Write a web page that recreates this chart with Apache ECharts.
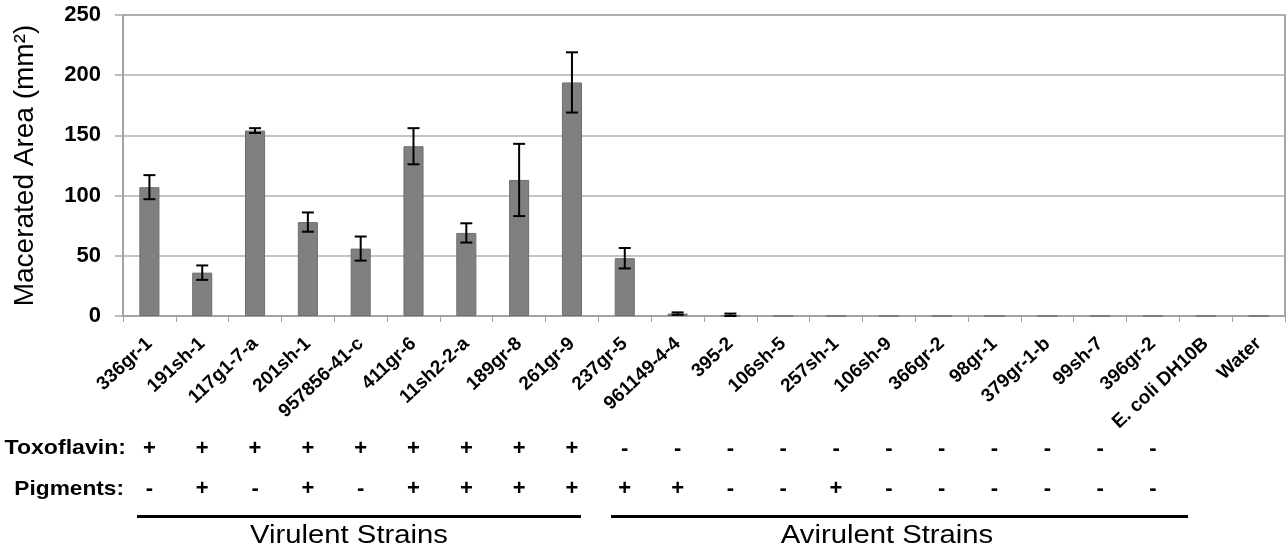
<!DOCTYPE html>
<html><head><meta charset="utf-8">
<script src="https://cdn.jsdelivr.net/npm/echarts@6/dist/echarts.min.js"></script>
<style>html,body{margin:0;padding:0;background:#fff}#c{width:1286px;height:551px}</style>
</head><body><div id="c"></div>
<script>
const categories = ['336gr-1','191sh-1','117g1-7-a','201sh-1','957856-41-c','411gr-6','11sh2-2-a','189gr-8','261gr-9','237gr-5','961149-4-4','395-2','106sh-5','257sh-1','106sh-9','366gr-2','98gr-1','379gr-1-b','99sh-7','396gr-2','E. coli DH10B','Water'];
const values = [107, 36, 154, 78, 56, 141, 69, 113, 194, 48, 2, 0.5, 0, 0, 0, 0, 0, 0, 0, 0, 0, 0];
const errors = [10, 6, 2, 8, 10, 15, 8, 30, 25, 8.5, 1, 1.5, 0, 0, 0, 0, 0, 0, 0, 0, 0, 0];
const toxoflavin = ['+','+','+','+','+','+','+','+','+','-','-','-','-','-','-','-','-','-','-','-','',''];
const pigments = ['-','+','-','+','-','+','+','+','+','+','+','-','-','+','-','-','-','-','-','-','',''];
const yTicks = [0, 50, 100, 150, 200, 250];

const chart = echarts.init(document.getElementById('c'));
const FONT = 'Liberation Sans, Arial, sans-serif';
const signAxis = (data, offset) => ({
  type: 'category', data: data, gridIndex: 0, position: 'bottom', offset: offset,
  axisLine: {show: false}, axisTick: {show: false}, splitLine: {show: false},
  axisLabel: {interval: 0, margin: 0, fontFamily: FONT, fontWeight: 'bold', fontSize: 22, color: '#000'}
});
chart.setOption({
  animation: false,
  grid: {left: 123, right: 1, top: 15, bottom: 235, show: true, borderColor: '#8a8a8a', borderWidth: 1.5, containLabel: false},
  xAxis: [{
    type: 'category', data: categories,
    axisLine: {lineStyle: {color: '#a0a0a0', width: 1.5}},
    axisTick: {show: true, length: 6, lineStyle: {color: '#a0a0a0'}, alignWithLabel: false},
    axisLabel: {interval: 0, rotate: 43, margin: 25, fontFamily: FONT, fontWeight: 'bold', fontSize: 19, color: '#000'}
  }, signAxis(toxoflavin, 122), signAxis(pigments, 162)],
  yAxis: {
    type: 'value', min: 0, max: 250, interval: 50,
    name: 'Macerated Area (mm²)', nameLocation: 'middle', nameGap: 84,
    nameTextStyle: {fontFamily: FONT, fontSize: 28, color: '#000'},
    axisLine: {show: true, lineStyle: {color: '#a0a0a0', width: 1.5}},
    axisTick: {show: true, length: 8, lineStyle: {color: '#a8a8a8', width: 1.5}},
    splitLine: {lineStyle: {color: '#b0b0b0', width: 1.5}},
    axisLabel: {fontFamily: FONT, fontWeight: 'bold', fontSize: 22, color: '#000', margin: 22,
      formatter: v => yTicks.includes(v) ? String(v) : ''}
  },
  series: [{
    type: 'bar', data: values, barWidth: '38%',
    itemStyle: {color: '#808080', borderColor: '#6e6e6e', borderWidth: 1}
  }, {
    type: 'custom', z: 5,
    data: values.map((v, i) => [i, v, errors[i]]),
    renderItem: function (params, api) {
      const i = api.value(0), v = api.value(1), e = api.value(2);
      if (!(e > 0)) return null;
      const top = api.coord([i, v + e]);
      const bot = api.coord([i, Math.max(0, v - e)]);
      const hw = 6;
      const st = {stroke: '#000', lineWidth: 2};
      return {type: 'group', children: [
        {type: 'line', shape: {x1: top[0], y1: top[1], x2: bot[0], y2: bot[1]}, style: st},
        {type: 'line', shape: {x1: top[0] - hw, y1: top[1], x2: top[0] + hw, y2: top[1]}, style: st},
        {type: 'line', shape: {x1: bot[0] - hw, y1: bot[1], x2: bot[0] + hw, y2: bot[1]}, style: st}
      ]};
    }
  }],
  graphic: [
    {type: 'text', x: 126, y: 448, scaleX: 1.1, style: {text: 'Toxoflavin:', font: 'bold 21px ' + FONT, fill: '#000', textAlign: 'right', textVerticalAlign: 'middle'}},
    {type: 'text', x: 124, y: 489, scaleX: 1.08, style: {text: 'Pigments:', font: 'bold 21px ' + FONT, fill: '#000', textAlign: 'right', textVerticalAlign: 'middle'}},
    {type: 'line', shape: {x1: 137, y1: 516.5, x2: 581, y2: 516.5}, style: {stroke: '#000', lineWidth: 3}},
    {type: 'line', shape: {x1: 611, y1: 516.5, x2: 1188, y2: 516.5}, style: {stroke: '#000', lineWidth: 3}},
    {type: 'text', x: 349, y: 536, scaleX: 1.17, style: {text: 'Virulent Strains', font: '25px ' + FONT, fill: '#000', textAlign: 'center', textVerticalAlign: 'middle'}},
    {type: 'text', x: 887, y: 536, scaleX: 1.17, style: {text: 'Avirulent Strains', font: '25px ' + FONT, fill: '#000', textAlign: 'center', textVerticalAlign: 'middle'}}
  ]
});
</script></body></html>
